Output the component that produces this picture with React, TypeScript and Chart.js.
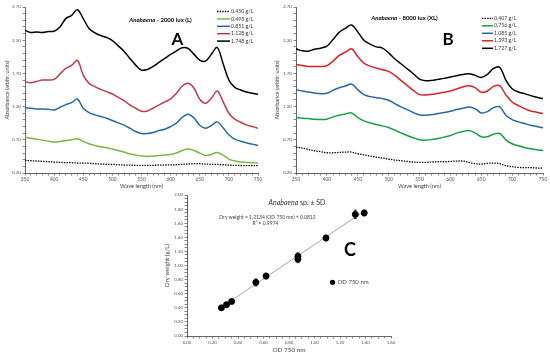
import React, { useEffect, useRef } from "react";
import { Chart, registerables } from "chart.js";

Chart.register(...registerables);

const FONT = "Lato, 'Open Sans', sans-serif";

// ---------- DATA ----------
const wavelengths = [
  350, 360, 370, 380, 390, 400, 410, 420, 430, 440,
  450, 460, 470, 480, 490, 500, 510, 520, 530, 540,
  550, 560, 570, 580, 590, 600, 610, 620, 630, 640,
  650, 660, 670, 680, 690, 700, 710, 720, 730, 740, 750,
];

// Panel A: Anabaena - 2000 lux (L)
const aLabels = ["0.450 g/L", "0.495 g/L", "0.851 g/L", "1.128 g/L", "1.748 g/L"];
const aDotted = [
  0.39, 0.385, 0.38, 0.375, 0.37, 0.365, 0.36, 0.355, 0.355, 0.35,
  0.35, 0.345, 0.34, 0.335, 0.33, 0.33, 0.325, 0.32, 0.318, 0.316,
  0.315, 0.315, 0.316, 0.318, 0.32, 0.322, 0.325, 0.33, 0.335, 0.34,
  0.34, 0.335, 0.33, 0.33, 0.325, 0.318, 0.315, 0.313, 0.312, 0.311, 0.31,
];
const aGreen = [
  0.74, 0.725, 0.71, 0.695, 0.68, 0.665, 0.675, 0.69, 0.7, 0.715,
  0.675, 0.64, 0.615, 0.595, 0.58, 0.56, 0.54, 0.515, 0.49, 0.47,
  0.455, 0.45, 0.455, 0.465, 0.47, 0.48, 0.5, 0.54, 0.56, 0.54,
  0.5, 0.465, 0.48, 0.51, 0.47, 0.41, 0.38, 0.365, 0.36, 0.355, 0.35,
];
const aBlue = [
  1.185, 1.175, 1.165, 1.165, 1.16, 1.15, 1.19, 1.23, 1.26, 1.315,
  1.175, 1.11, 1.075, 1.05, 1.025, 0.99, 0.955, 0.92, 0.875, 0.825,
  0.795, 0.795, 0.81, 0.84, 0.86, 0.9, 0.95, 1.04, 1.085, 1.03,
  0.92, 0.875, 0.915, 0.97, 0.88, 0.775, 0.71, 0.68, 0.655, 0.635, 0.615,
];
const aRed = [
  1.575, 1.56, 1.58, 1.6, 1.6, 1.61, 1.69, 1.775, 1.82, 1.895,
  1.675, 1.55, 1.5, 1.46, 1.425, 1.39, 1.34, 1.29, 1.225, 1.175,
  1.13, 1.135, 1.175, 1.225, 1.27, 1.315, 1.4, 1.51, 1.55, 1.48,
  1.31, 1.25, 1.325, 1.435, 1.275, 1.1, 1.01, 0.965, 0.925, 0.9, 0.875,
];
const aBlack = [
  2.35, 2.315, 2.325, 2.315, 2.33, 2.335, 2.4, 2.525, 2.575, 2.66,
  2.525, 2.375, 2.31, 2.27, 2.24, 2.195, 2.115, 2.035, 1.925, 1.825,
  1.75, 1.76, 1.805, 1.865, 1.925, 1.985, 2.04, 2.085, 2.075, 1.99,
  1.9, 1.885, 1.99, 2.09, 1.85, 1.6, 1.49, 1.45, 1.42, 1.4, 1.385,
];

// Panel B: Anabaena - 8000 lux (XL)
const bLabels = ["0.407 g/L", "0.756 g/L", "1.085 g/L", "1.393 g/L", "1.727 g/L"];
const bDotted = [
  0.59, 0.575, 0.555, 0.535, 0.52, 0.505, 0.505, 0.51, 0.515, 0.515,
  0.49, 0.475, 0.455, 0.44, 0.425, 0.41, 0.395, 0.385, 0.375, 0.365,
  0.36, 0.36, 0.365, 0.37, 0.37, 0.375, 0.38, 0.38, 0.36, 0.34,
  0.335, 0.345, 0.35, 0.34, 0.31, 0.295, 0.285, 0.28, 0.28, 0.275, 0.275,
];
const bGreen = [
  1.035, 1.025, 1.02, 1.01, 1.005, 1.01, 1.045, 1.07, 1.09, 1.105,
  1.035, 0.985, 0.955, 0.93, 0.91, 0.885, 0.845, 0.805, 0.765, 0.73,
  0.7, 0.695, 0.705, 0.72, 0.74, 0.765, 0.8, 0.825, 0.84, 0.805,
  0.745, 0.745, 0.785, 0.795, 0.7, 0.64, 0.61, 0.585, 0.565, 0.55, 0.54,
];
const bBlue = [
  1.455, 1.435, 1.42, 1.405, 1.395, 1.4, 1.445, 1.485, 1.51, 1.54,
  1.455, 1.38, 1.35, 1.335, 1.32, 1.295, 1.245, 1.195, 1.155, 1.11,
  1.075, 1.07, 1.08, 1.095, 1.11, 1.13, 1.155, 1.175, 1.195, 1.17,
  1.105, 1.125, 1.185, 1.195, 1.07, 1.005, 0.97, 0.945, 0.92, 0.9, 0.88,
];
const bRed = [
  1.835, 1.82, 1.805, 1.805, 1.805, 1.815, 1.885, 1.97, 2.02, 2.07,
  1.955, 1.855, 1.81, 1.78, 1.755, 1.73, 1.67, 1.595, 1.52, 1.445,
  1.38, 1.375, 1.385, 1.4, 1.415, 1.435, 1.465, 1.495, 1.515, 1.485,
  1.415, 1.435, 1.505, 1.515, 1.375, 1.27, 1.215, 1.17, 1.135, 1.115, 1.095,
];
const bBlack = [
  2.07, 2.04, 2.035, 2.065, 2.08, 2.11, 2.21, 2.32, 2.38, 2.43,
  2.325, 2.2, 2.14, 2.1, 2.08, 2.01, 1.92, 1.845, 1.77, 1.695,
  1.615, 1.59, 1.595, 1.61, 1.625, 1.645, 1.665, 1.685, 1.695, 1.67,
  1.64, 1.685, 1.775, 1.79, 1.595, 1.47, 1.42, 1.395, 1.365, 1.34, 1.32,
];

// Panel C: dry weight vs OD 750 nm
const odValues = [0.27, 0.31, 0.35, 0.54, 0.62, 0.87, 0.87, 1.09, 1.32, 1.39];
const dryWeights = [0.4, 0.445, 0.49, 0.76, 0.85, 1.09, 1.13, 1.39, 1.725, 1.745];
const dryWeightSD = [0.02, 0.03, 0.02, 0.05, 0.04, 0.05, 0.05, 0.04, 0.06, 0.04];
const trendOD = [0.27, 1.39];
const trendDW = [0.41, 1.77];

const spectraTicksY = [0.2, 0.7, 1.2, 1.7, 2.2, 2.7];
const spectraTicksX = [350, 400, 450, 500, 550, 600, 650, 700, 750];
const cTicksX = [0, 0.2, 0.4, 0.6, 0.8, 1.0, 1.2, 1.4, 1.6];
const cTicksY = [0, 0.2, 0.4, 0.6, 0.8, 1.0, 1.2, 1.4, 1.6, 1.8, 2.0];

// ---------- PLUGINS ----------
type Seg = { text: string; font: string; color?: string };
type TextItem = { segs: Seg[]; x: number; y: number; align?: "center" | "left" };

function makeTextPlugin(items: TextItem[]) {
  return {
    id: "texts",
    afterDraw(chart: any) {
      const ctx = chart.ctx;
      for (const item of items) {
        ctx.save();
        let total = 0;
        for (const s of item.segs) {
          ctx.font = s.font;
          total += ctx.measureText(s.text).width;
        }
        let x = item.align === "left" ? item.x : item.x - total / 2;
        ctx.textBaseline = "middle";
        for (const s of item.segs) {
          ctx.font = s.font;
          ctx.fillStyle = s.color || "#000";
          ctx.fillText(s.text, x, item.y);
          x += ctx.measureText(s.text).width;
        }
        ctx.restore();
      }
    },
  };
}

function makeLegendPlugin(cfg: { x: number; y: number; dy: number; len: number; size: number }) {
  return {
    id: "miniLegend",
    afterDraw(chart: any) {
      const ctx = chart.ctx;
      chart.data.datasets.forEach((ds: any, i: number) => {
        const y = cfg.y + i * cfg.dy;
        ctx.save();
        ctx.strokeStyle = ds.borderColor;
        ctx.lineWidth = ds.borderWidth;
        ctx.setLineDash(ds.borderDash || []);
        ctx.beginPath();
        ctx.moveTo(cfg.x, y);
        ctx.lineTo(cfg.x + cfg.len, y);
        ctx.stroke();
        ctx.setLineDash([]);
        ctx.font = `${cfg.size}px ${FONT}`;
        ctx.fillStyle = "#333";
        ctx.textBaseline = "middle";
        ctx.fillText(ds.label, cfg.x + cfg.len + 1, y);
        ctx.restore();
      });
    },
  };
}

function makeErrorBarPlugin() {
  return {
    id: "errorBars",
    afterDatasetsDraw(chart: any) {
      const ctx = chart.ctx;
      const xs = chart.scales.x;
      const ys = chart.scales.y;
      ctx.save();
      ctx.strokeStyle = "#000";
      ctx.lineWidth = 0.8;
      odValues.forEach((od, i) => {
        const px = xs.getPixelForValue(od);
        const top = ys.getPixelForValue(dryWeights[i] + dryWeightSD[i]);
        const bot = ys.getPixelForValue(dryWeights[i] - dryWeightSD[i]);
        ctx.beginPath();
        ctx.moveTo(px, top);
        ctx.lineTo(px, bot);
        ctx.moveTo(px - 1.5, top);
        ctx.lineTo(px + 1.5, top);
        ctx.moveTo(px - 1.5, bot);
        ctx.lineTo(px + 1.5, bot);
        ctx.stroke();
      });
      ctx.restore();
    },
  };
}

function makeCLegendPlugin() {
  return {
    id: "cLegend",
    afterDraw(chart: any) {
      const ctx = chart.ctx;
      ctx.save();
      ctx.fillStyle = "#000";
      ctx.beginPath();
      ctx.arc(332.5, 282.3, 2.6, 0, Math.PI * 2);
      ctx.fill();
      ctx.font = `6px ${FONT}`;
      ctx.fillStyle = "#444";
      ctx.textBaseline = "middle";
      ctx.fillText("OD 750 nm", 337.5, 282.5);
      ctx.restore();
    },
  };
}

// ---------- HELPERS ----------
const isOnList = (v: number, list: number[]) => list.some((t) => Math.abs(t - v) < 1e-6);

function axis(opts: {
  min: number; max: number; step: number; labels: number[]; decimals: number;
  size: number; title: string; titleSize: number; titlePad: any; fit: (s: any) => void;
}) {
  return {
    type: "linear",
    min: opts.min,
    max: opts.max,
    grid: {
      display: true, drawOnChartArea: false, drawTicks: true, tickLength: 2.5,
      tickColor: "#555", tickWidth: 0.7,
    },
    border: { display: true, color: "#555", width: 0.9 },
    ticks: {
      stepSize: opts.step,
      autoSkip: false, maxRotation: 0, minRotation: 0, padding: 1.5,
      color: "#555",
      font: { family: FONT, size: opts.size },
      callback: (v: any) => (isOnList(Number(v), opts.labels) ? Number(v).toFixed(opts.decimals) : ""),
    },
    title: {
      display: true, text: opts.title, color: "#444",
      font: { family: FONT, size: opts.titleSize }, padding: opts.titlePad,
    },
    afterFit: (s: any) => {
      opts.fit(s);
      s.paddingLeft = 0; s.paddingRight = 0; s.paddingTop = 0; s.paddingBottom = 0;
    },
  };
}

function lineDs(label: string, values: number[], color: string, dashed = false) {
  return {
    label,
    data: wavelengths.map((w, i) => ({ x: w, y: values[i] })),
    borderColor: color,
    backgroundColor: color,
    borderWidth: dashed ? 1.3 : 1.5,
    borderDash: dashed ? [1.4, 1.2] : undefined,
    pointRadius: 0,
    tension: 0.35,
    fill: false,
  };
}

function spectraConfig(
  labels: string[], series: number[][], colors: string[], padding: any, yWidth: number,
  yTitlePadTop: number, texts: TextItem[], legend: any
) {
  return {
    type: "line",
    data: {
      datasets: series.map((s, i) => lineDs(labels[i], s, colors[i], i === 0)),
    },
    options: {
      responsive: false,
      animation: false,
      layout: { padding },
      plugins: { legend: { display: false }, tooltip: { enabled: false } },
      scales: {
        x: axis({
          min: 350, max: 750, step: 10, labels: spectraTicksX, decimals: 0, size: 4.8,
          title: "Wave length (nm)", titleSize: 5.6, titlePad: { top: 0, bottom: 2.2 },
          fit: (s) => { s.height = 19; },
        }),
        y: axis({
          min: 0.2, max: 2.7, step: 0.1, labels: spectraTicksY, decimals: 2, size: 4.6,
          title: "Absorbance (arbitr. units)", titleSize: 5.4, titlePad: { top: yTitlePadTop, bottom: 0 },
          fit: (s) => { s.width = yWidth; },
        }),
      },
    },
    plugins: [makeTextPlugin(texts), makeLegendPlugin(legend)],
  };
}

export default function App() {
  const refA = useRef<HTMLCanvasElement>(null);
  const refB = useRef<HTMLCanvasElement>(null);
  const refC = useRef<HTMLCanvasElement>(null);

  useEffect(() => {
    document.body.style.margin = "0";
    const charts: Chart[] = [];

    const cfgA: any = spectraConfig(
      aLabels, [aDotted, aGreen, aBlue, aRed, aBlack],
      ["#000000", "#7DB544", "#236B9C", "#C0394B", "#000000"],
      { left: 0, top: 7, right: 292, bottom: 166 }, 25, 3.7,
      [
        {
          segs: [
            { text: "Anabaena", font: `italic bold 6px ${FONT}` },
            { text: " - 2000 lux (L)", font: `bold 6px ${FONT}` },
          ],
          x: 160.5, y: 20,
        },
        { segs: [{ text: "A", font: `bold 17px ${FONT}` }], x: 177.5, y: 39.5 },
      ],
      { x: 217, y: 11.5, dy: 7.4, len: 13, size: 5.2 }
    );

    const cfgB: any = spectraConfig(
      bLabels, [bDotted, bGreen, bBlue, bRed, bBlack],
      ["#000000", "#17A04C", "#2468A8", "#E0202A", "#000000"],
      { left: 273, top: 7, right: 7, bottom: 166 }, 23, 0.8,
      [
        {
          segs: [
            { text: "Anabaena", font: `italic bold 6px ${FONT}` },
            { text: " - 8000 lux (XL)", font: `bold 6px ${FONT}` },
          ],
          x: 404.5, y: 18.5,
        },
        { segs: [{ text: "B", font: `bold 17px ${FONT}` }], x: 448, y: 39.5 },
      ],
      { x: 482, y: 18.3, dy: 7.5, len: 11, size: 5.2 }
    );

    const cfgC: any = {
      type: "scatter",
      data: {
        datasets: [
          {
            type: "line",
            label: "trend",
            data: trendOD.map((x, i) => ({ x, y: trendDW[i] })),
            borderColor: "#9a9a9a",
            borderWidth: 0.9,
            pointRadius: 0,
            fill: false,
            order: 2,
          },
          {
            label: "OD 750 nm",
            data: odValues.map((x, i) => ({ x, y: dryWeights[i] })),
            backgroundColor: "#000",
            borderColor: "#000",
            pointRadius: 3,
            order: 1,
          },
        ],
      },
      options: {
        responsive: false,
        animation: false,
        layout: { padding: { left: 160, top: 195, right: 159, bottom: 0 } },
        plugins: { legend: { display: false }, tooltip: { enabled: false } },
        scales: {
          x: axis({
            min: 0, max: 1.6, step: 0.05, labels: cTicksX, decimals: 2, size: 4.4,
            title: "OD 750 nm", titleSize: 6.4, titlePad: { top: 0, bottom: 4 },
            fit: (s) => { s.height = 22; },
          }),
          y: axis({
            min: 0, max: 2, step: 0.05, labels: cTicksY, decimals: 2, size: 4.4,
            title: "Dry weight (g/L)", titleSize: 6, titlePad: { top: 3.4, bottom: 0 },
            fit: (s) => { s.width = 27; },
          }),
        },
      },
      plugins: [
        makeErrorBarPlugin(),
        makeCLegendPlugin(),
        makeTextPlugin([
          {
            segs: [
              { text: "Anabaena", font: `italic 7px ${FONT}`, color: "#333" },
              { text: " sp. ± SD", font: `7px ${FONT}`, color: "#333" },
            ],
            x: 297, y: 203,
          },
          {
            segs: [{ text: "Dry weight = 1.2134 (OD 750 nm) + 0.0812", font: `5px ${FONT}`, color: "#444" }],
            x: 267.5, y: 217.8,
          },
          {
            segs: [{ text: "R² = 0.9974", font: `5px ${FONT}`, color: "#444" }],
            x: 265.5, y: 223.5,
          },
          { segs: [{ text: "C", font: `bold 18px ${FONT}` }], x: 350, y: 250 },
        ]),
      ],
    };

    if (refA.current) charts.push(new Chart(refA.current, cfgA));
    if (refB.current) charts.push(new Chart(refB.current, cfgB));
    if (refC.current) charts.push(new Chart(refC.current, cfgC));

    return () => {
      charts.forEach((c) => c.destroy());
    };
  }, []);

  const canvasStyle: React.CSSProperties = {
    position: "absolute", left: 0, top: 0, width: 550, height: 358,
  };

  return (
    <div style={{ position: "relative", width: 550, height: 358, background: "#fff", overflow: "hidden" }}>
      <canvas ref={refA} width={550} height={358} style={canvasStyle} />
      <canvas ref={refB} width={550} height={358} style={canvasStyle} />
      <canvas ref={refC} width={550} height={358} style={canvasStyle} />
    </div>
  );
}
